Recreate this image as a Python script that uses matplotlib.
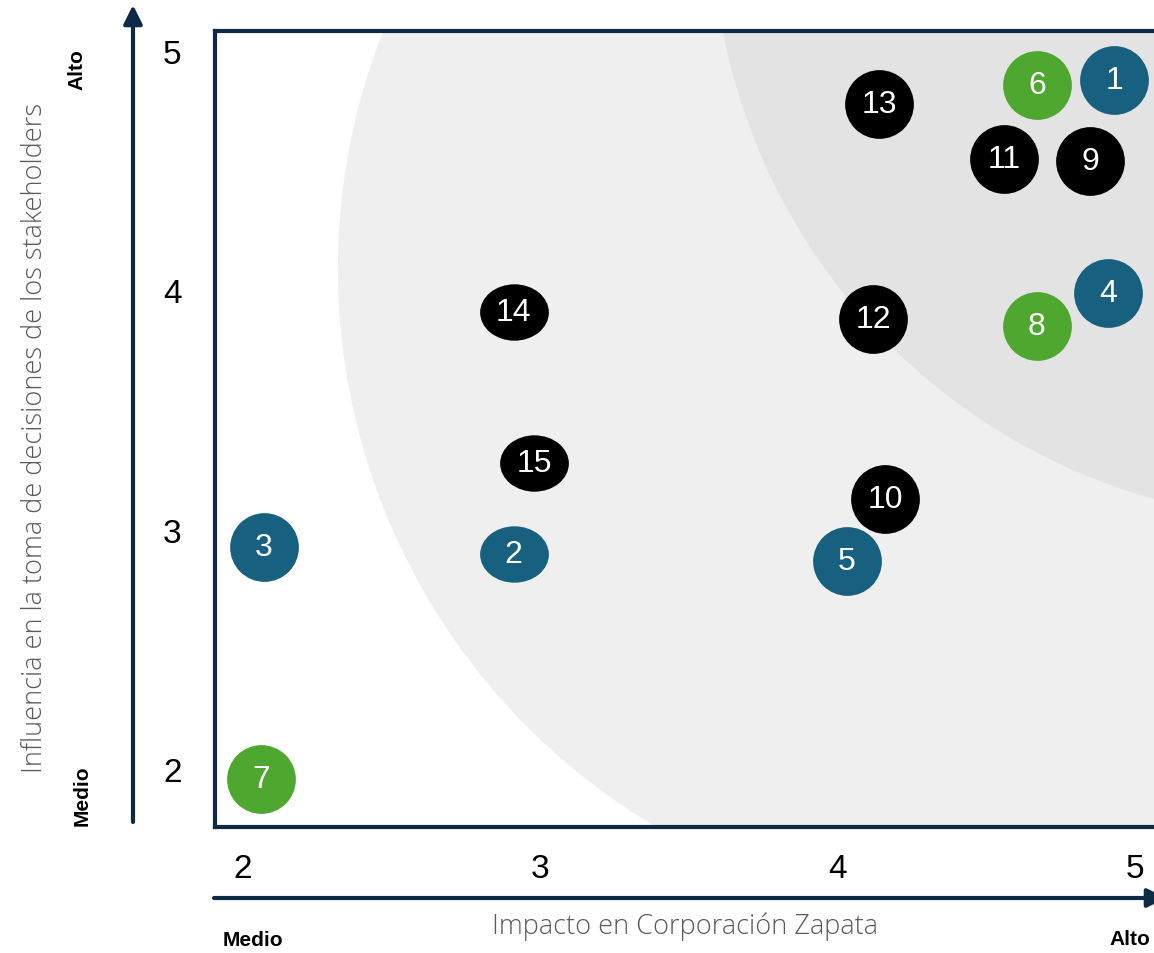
import matplotlib
matplotlib.use("Agg")
import matplotlib.pyplot as plt
from matplotlib.patches import Ellipse
from matplotlib.path import Path
import numpy as np

plt.rcParams['font.family'] = ['Liberation Sans', 'DejaVu Sans']

# stakeholder id, impact (x), influence (y), group
ids = [1, 6, 13, 11, 9, 4, 14, 12, 8, 15, 10, 3, 2, 5, 7]
impacto = [4.93, 4.67, 4.14, 4.56, 4.85, 4.91, 2.91, 4.12, 4.67, 2.98, 4.16, 2.07, 2.91, 4.03, 2.06]
influencia = [4.88, 4.86, 4.78, 4.55, 4.54, 3.99, 3.91, 3.88, 3.85, 3.28, 3.13, 2.93, 2.90, 2.87, 1.96]
grupo = ['azul', 'verde', 'negro', 'negro', 'negro', 'azul', 'negro', 'negro', 'verde',
         'negro', 'negro', 'azul', 'azul', 'azul', 'verde']
ticks = [2, 3, 4, 5]

colores = {'azul': '#17607f', 'verde': '#4ea72e', 'negro': '#000000'}
navy = '#0d2b45'
W, H = 1154, 954

fig = plt.figure(figsize=(W / 100, H / 100), dpi=100)
ax = fig.add_axes([215 / W, 1 - 828 / H, 945 / W, 796 / H])
ax.set_xlim(1.906, 5.084)
ax.set_ylim(1.758, 5.084)

# pixels per data unit, used to keep the background zones round
px_x, px_y = 297.3, 239.3
def zona(cx, cy, r, color):
    ax.add_patch(Ellipse((cx, cy), 2 * r / px_x, 2 * r / px_y, color=color, lw=0, zorder=0))

zona(4.499, 4.089, 648, '#efefef')
zona(5.609, 5.560, 604, '#e3e3e3')

circ = Path.unit_circle()
flat = Path(circ.vertices * np.array([1.0, 0.82]), circ.codes)
achatados = {14, 15, 2}

for i, x, y, g in zip(ids, impacto, influencia, grupo):
    m = flat if i in achatados else 'o'
    ax.scatter([x], [y], s=2450, marker=m, color=colores[g], lw=0, zorder=3)
    ax.text(x, y, str(i), color='white', fontsize=23, ha='center', va='center', zorder=4)

for s in ax.spines.values():
    s.set_color(navy)
    s.set_linewidth(3)

ax.set_xticks(ticks)
ax.set_yticks(ticks)
ax.set_xticklabels([str(t) for t in ticks], fontsize=24)
ax.set_yticklabels([str(t) for t in ticks], fontsize=24)
ax.tick_params(length=0)
ax.tick_params(axis='x', pad=19)
ax.tick_params(axis='y', pad=24)

def ftext(x, y, s, **kw):
    fig.text(x / W, 1 - y / H, s, ha='center', va='center', **kw)

# axis arrows
ax.annotate('', xy=(133 / W, 1 - 6 / H), xytext=(133 / W, 1 - 823 / H), xycoords='figure fraction',
            arrowprops=dict(arrowstyle='-|>', lw=3, color=navy, mutation_scale=28, shrinkA=0, shrinkB=0))
ax.annotate('', xy=(1166 / W, 1 - 899 / H), xytext=(214 / W, 1 - 899 / H), xycoords='figure fraction',
            arrowprops=dict(arrowstyle='-|>', lw=3, color=navy, mutation_scale=28, shrinkA=0, shrinkB=0),
            annotation_clip=False)

ftext(35, 438, 'Influencia en la toma de decisiones de los stakeholders', rotation=90,
      fontsize=19.5, color='#595959', family=['Open Sans', 'DejaVu Sans'], fontweight='light')
ftext(685, 927, 'Impacto en Corporación Zapata', fontsize=19.5, color='#595959',
      family=['Open Sans', 'DejaVu Sans'], fontweight='light')

ftext(77, 70, 'Alto', rotation=90, fontsize=15, fontweight='bold')
ftext(82, 796, 'Medio', rotation=90, fontsize=15, fontweight='bold')
ftext(253, 941, 'Medio', fontsize=15, fontweight='bold')
ftext(1130, 940, 'Alto', fontsize=15, fontweight='bold')

fig.savefig('out.png', dpi=100)
